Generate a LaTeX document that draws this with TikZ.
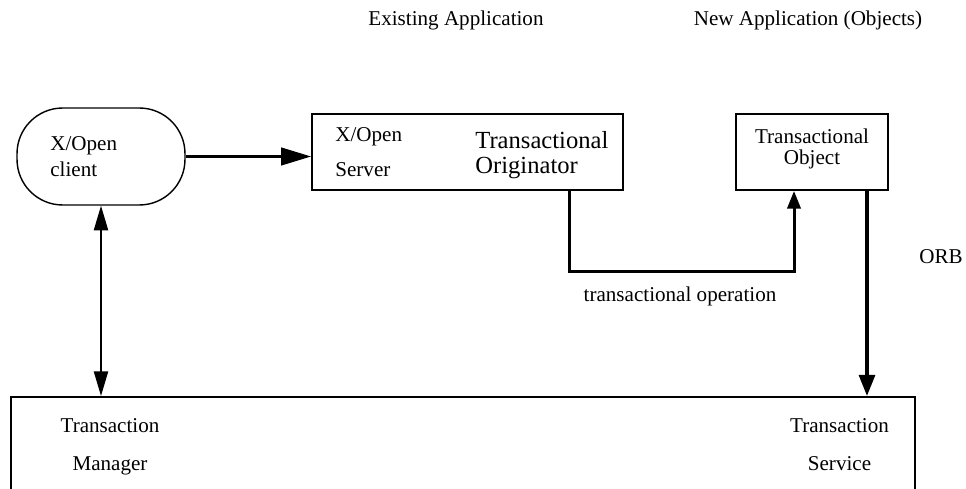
\documentclass[tikz,border=0pt]{standalone}
\usepackage{fontspec}
\setmainfont{Liberation Serif}
\usepackage{tikz}
\usetikzlibrary{arrows.meta, positioning}
\tikzstyle{terminal} = [rectangle, rounded corners=26pt, 
minimum width=3.36cm, 
minimum height=1.94cm, 
draw=black, 
line width=0.8pt]
\tikzstyle{process} = [rectangle, 
minimum height=1.52cm, 
draw=black, 
line width=1.1pt]
\tikzstyle{txt} = [inner sep=0pt, 
font=\fontsize{12}{14}\selectfont]
\tikzstyle{arrow} = [line width=1.3pt,-{Triangle[length=17pt,width=10pt]}]
\tikzstyle{oparrow} = [line width=1.7pt,-{Triangle[length=10pt,width=7.5pt]}]
\tikzstyle{orbarrow} = [line width=2pt,-{Triangle[length=12pt,width=9pt]}]
\tikzstyle{dblarrow} = [line width=1.1pt,{Triangle[length=14pt,width=8pt]}-{Triangle[length=14pt,width=8pt]}]

\begin{document}
\begin{tikzpicture}[x=0.02cm, y=-0.02cm]

\path[use as bounding box, clip] (0,0) rectangle (966,489);

% headings
\node (existing) [txt] at (456,20) {Existing Application};
\node (newapp) [txt] at (808,20) {New Application (Objects)};

\node (client) [terminal] at (101,156.5) {};
\node (clienttxt) [txt, align=left, anchor=west, font=\fontsize{12}{14.7}\selectfont] at (50,157) {X/Open\\client};
\node (server) [process, minimum width=6.22cm] at (467.5,152) {};
\node (servertxt) [txt, align=left, anchor=west, font=\fontsize{12}{19.8}\selectfont] at (335,152.5) {X/Open\\Server};
\node (orig) [txt, align=left, anchor=west, font=\fontsize{14}{14.2}\selectfont] at (475,155.5) {Transactional\\Originator};
\node (object) [process, minimum width=3.04cm] at (812,152) {};
\node (objtxt) [txt, align=center, font=\fontsize{12}{12}\selectfont] at (812,148.5) {Transactional\\Object};
\node (orb) [txt] at (941,257) {ORB};
\node (tm) [process, minimum width=18.08cm, minimum height=2.06cm] at (463,448.5) {};
\node (tmtxt) [txt, align=center, font=\fontsize{12}{21.5}\selectfont] at (110,447) {Transaction\\Manager};
\node (tstxt) [txt, align=center, font=\fontsize{12}{21.5}\selectfont] at (839.5,445) {Transaction\\Service};
\node (optxt) [txt] at (680,296) {transactional operation};

\coordinate (opstart) at ([xshift=-1.08cm]server.south east);
\coordinate (opend) at ([xshift=-0.36cm]object.south);
\coordinate (orbtop) at ([xshift=1.1cm]object.south);

\draw [arrow] (client.east) -- (client.east -| server.west);
\draw [oparrow] (opstart) -- ++(0,81) -| (opend);
\draw [orbarrow] (orbtop) -- (orbtop |- tm.north);
\draw [dblarrow] (client.south) -- (client.south |- tm.north);

\end{tikzpicture}
\end{document}
